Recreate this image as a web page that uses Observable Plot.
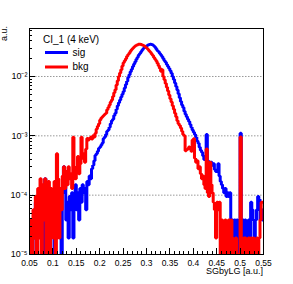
<!DOCTYPE html>
<html><head><meta charset="utf-8">
<script src="https://cdn.jsdelivr.net/npm/d3@7"></script>
<script src="https://cdn.jsdelivr.net/npm/@observablehq/plot@0.6"></script>
<style>html,body{margin:0;padding:0;background:#fff;overflow:hidden}</style>
</head><body><div id="chart"></div>
<script>
// ---- data ----
const binStart = 0.05;
const binWidth = 0.0025;
const sig = [
  1.9e-5, 1.9e-5, 0, 3.8e-5, 1.9e-5, 7.6e-5, 5.7e-5, 3.8e-5, 7.6e-5, 3.8e-5,
  5.7e-5, 1.1e-4, 0, 1.9e-4, 1.3e-4, 3.8e-5, 7.6e-5, 0, 5.7e-5, 9.5e-5,
  3.8e-5, 0, 7.6e-5, 1.9e-5, 5.7e-5, 1.3e-4, 3.8e-5, 0, 1.1e-4, 3.0e-4,
  1.7e-4, 3.8e-5, 7.6e-5, 1.9e-5, 9.5e-5, 5.7e-5, 1.1e-4, 1.9e-5, 5.7e-5, 1.5e-4,
  5.7e-5, 1.1e-4, 3.8e-5, 1.3e-4, 7.6e-5, 1.5e-4, 1.1e-4, 1.3e-4, 5.7e-5, 1.7e-4,
  1.5e-4, 2.1e-4, 1.9e-4, 2.8e-4, 3.2e-4, 3.8e-4, 4.7e-4, 5.0e-4, 5.5e-4, 6.2e-4,
  6.5e-4, 7.0e-4, 7.6e-4, 9.0e-4, 9.6e-4, 1.05e-3, 1.2e-3, 1.25e-3, 1.4e-3, 1.6e-3,
  1.8e-3, 1.9e-3, 2.2e-3, 2.4e-3, 2.8e-3, 3.2e-3, 3.6e-3, 4.0e-3, 4.5e-3, 5.0e-3,
  5.6e-3, 6.4e-3, 7.3e-3, 8.3e-3, 9.6e-3, 1.07e-2, 1.2e-2, 1.33e-2, 1.47e-2, 1.62e-2,
  1.78e-2, 1.95e-2, 2.12e-2, 2.3e-2, 2.45e-2, 2.62e-2, 2.8e-2, 2.95e-2, 3.08e-2, 3.2e-2,
  3.3e-2, 3.38e-2, 3.45e-2, 3.48e-2, 3.45e-2, 3.38e-2, 3.28e-2, 3.1e-2, 2.9e-2, 2.72e-2,
  2.6e-2, 2.45e-2, 2.3e-2, 2.15e-2, 2.0e-2, 1.85e-2, 1.73e-2, 1.6e-2, 1.48e-2, 1.36e-2,
  1.25e-2, 1.13e-2, 1.0e-2, 8.9e-3, 7.8e-3, 6.8e-3, 5.9e-3, 5.1e-3, 4.4e-3, 3.8e-3,
  3.3e-3, 3.0e-3, 2.6e-3, 2.3e-3, 2.1e-3, 1.9e-3, 1.75e-3, 1.55e-3, 1.4e-3, 1.25e-3,
  1.15e-3, 1.05e-3, 9.5e-4, 8.2e-4, 7.5e-4, 6.4e-4, 5.7e-4, 5.3e-4, 4.6e-4, 4.0e-4,
  4.0e-4, 1.05e-3, 3.8e-4, 3.6e-4, 3.0e-4, 3.6e-4, 3.2e-4, 3.4e-4, 2.7e-4, 2.5e-4,
  2.5e-4, 3.4e-4, 2.1e-4, 1.7e-4, 1.5e-4, 1.3e-4, 1.1e-4, 1.3e-4, 9.5e-5, 1.1e-4,
  9.5e-5, 1.1e-4, 3.8e-5, 3.8e-5, 1.9e-5, 3.8e-5, 0, 3.8e-5, 1.9e-5, 0,
  1.1e-3, 1.9e-5, 3.8e-5, 1.9e-5, 3.8e-5, 0, 1.9e-5, 3.8e-5, 1.9e-5, 7.6e-5,
  5.7e-5, 3.8e-5, 1.9e-5, 3.8e-5, 5.7e-5, 9.5e-5, 8.5e-5, 3.8e-5, 5.7e-5, 3.8e-5
];
const bkg = [
  0, 3.8e-5, 0, 5.7e-5, 1.9e-5, 9.5e-5, 0, 1.3e-4, 1.9e-5, 1.9e-4,
  0, 1.5e-4, 3.8e-5, 1.9e-4, 0, 1.1e-4, 1.7e-4, 0, 1.3e-4, 7.6e-5,
  1.9e-5, 1.7e-4, 0, 5.0e-4, 1.9e-4, 1.9e-5, 1.3e-4, 5.7e-5, 2.1e-4, 3.0e-4,
  1.3e-4, 2.5e-4, 1.5e-4, 3.0e-4, 1.9e-4, 2.3e-4, 1.3e-4, 9.5e-4, 2.7e-4, 1.9e-4,
  3.0e-4, 4.5e-4, 2.3e-4, 3.4e-4, 9.5e-4, 4.2e-4, 5.0e-4, 3.6e-4, 6.0e-4, 9.0e-4,
  8.5e-4, 9.0e-4, 9.5e-4, 8.8e-4, 1.0e-3, 9.6e-4, 1.1e-3, 1.3e-3, 1.45e-3, 1.6e-3,
  1.85e-3, 2.0e-3, 2.1e-3, 2.2e-3, 2.3e-3, 2.4e-3, 2.75e-3, 3.0e-3, 3.3e-3, 3.7e-3,
  4.0e-3, 4.6e-3, 5.3e-3, 6.0e-3, 7.2e-3, 8.5e-3, 1.0e-2, 1.15e-2, 1.3e-2, 1.5e-2,
  1.7e-2, 1.85e-2, 2.0e-2, 2.2e-2, 2.35e-2, 2.5e-2, 2.7e-2, 2.85e-2, 3.0e-2, 3.15e-2,
  3.25e-2, 3.35e-2, 3.42e-2, 3.48e-2, 3.5e-2, 3.45e-2, 3.4e-2, 3.32e-2, 3.22e-2, 3.1e-2,
  2.98e-2, 2.85e-2, 2.7e-2, 2.55e-2, 2.4e-2, 2.25e-2, 2.1e-2, 1.95e-2, 1.82e-2, 1.68e-2,
  1.52e-2, 1.38e-2, 1.22e-2, 1.3e-2, 1.0e-2, 8.8e-3, 7.6e-3, 6.6e-3, 5.7e-3, 4.9e-3,
  4.2e-3, 3.7e-3, 3.2e-3, 2.8e-3, 2.4e-3, 2.1e-3, 1.8e-3, 1.6e-3, 1.5e-3, 1.35e-3,
  1.2e-3, 1.05e-3, 1.0e-3, 5.6e-4, 5.8e-4, 6.0e-4, 6.5e-4, 6.0e-4, 5.5e-4, 8.5e-4,
  8.9e-4, 4.2e-4, 3.6e-4, 3.8e-4, 2.8e-4, 3.0e-4, 2.3e-4, 1.9e-4, 2.1e-4, 1.5e-4,
  1.3e-4, 6.0e-4, 1.1e-4, 9.5e-5, 3.6e-4, 1.5e-4, 1.1e-4, 7.6e-5, 5.7e-5, 1.9e-5,
  7.6e-5, 5.7e-5, 7.6e-5, 0, 3.8e-5, 1.9e-5, 0, 3.8e-5, 1.9e-5, 0,
  3.8e-5, 0, 3.8e-5, 1.9e-5, 0, 0, 1.9e-5, 0, 0, 0,
  9.6e-4, 0, 0, 1.9e-5, 1.9e-5, 0, 0, 1.9e-5, 0, 1.9e-5,
  0, 1.9e-5, 0, 0, 1.9e-5, 0, 1.9e-5, 3.8e-5, 7.6e-5, 7.6e-5
];
const xTicks = [0.05, 0.1, 0.15, 0.2, 0.25, 0.3, 0.35, 0.4, 0.45, 0.5, 0.55];
const xTickLabels = ["0.05", "0.1", "0.15", "0.2", "0.25", "0.3", "0.35", "0.4", "0.45", "0.5", "0.55"];
const yTicks = [1e-5, 1e-4, 1e-3, 1e-2];
const yTickLabels = ["10\u207B\u2075", "10\u207B\u2074", "10\u207B\u00B3", "10\u207B\u00B2"];
const gridValues = [1e-4, 1e-3, 1e-2];
const seriesNames = ["sig", "bkg"];
const seriesColors = ["#0000ff", "#ff0000"];
const legendTitle = "CI_1 (4 keV)";
const xTitle = "SGbyLG [a.u.]";
const yTitle = "a.u.";

// ---- layout ----
const W = 293, H = 284;
const M = {top: 28, right: 30, bottom: 30, left: 29};
const xDomain = [0.05, 0.55];
const yDomain = [1e-5, 0.0644];
const font = "'Liberation Sans', Arial, Helvetica, sans-serif";

function histSteps(values, series) {
  const pts = [];
  values.forEach((v, i) => {
    const lo = binStart + i * binWidth, hi = lo + binWidth;
    const y = Math.max(v, yDomain[0]);
    pts.push({x: lo, y, series}, {x: hi, y, series});
  });
  return pts;
}
const sigSteps = histSteps(sig, seriesNames[0]);
const bkgSteps = histSteps(bkg, seriesNames[1]);

// minor tick positions
const yMinor = [];
for (let e = -5; e <= -2; e++) for (let k = 2; k <= 9; k++) {
  const v = k * Math.pow(10, e);
  if (v <= yDomain[1]) yMinor.push(v);
}
const xMinor = d3.range(5, 56).map(i => i / 100).filter(v => Math.round(v * 100) % 5 !== 0);

function decor(index, scales, values, dims) {
  const {x, y} = scales;
  const g = d3.create("svg:g");
  const L = dims.marginLeft, B = dims.height - dims.marginBottom, R = dims.width - dims.marginRight;
  const ticks = g.append("g").attr("stroke", "#000").attr("stroke-width", 1).attr("fill", "none");
  for (const t of yTicks) { const p = Math.round(y(t)) + 0.5; ticks.append("line").attr("x1", L).attr("x2", L + 6).attr("y1", p).attr("y2", p); }
  for (const t of yMinor) { const p = Math.round(y(t)) + 0.5; ticks.append("line").attr("x1", L).attr("x2", L + 3).attr("y1", p).attr("y2", p); }
  for (const t of xTicks) { const p = Math.round(x(t)) + 0.5; ticks.append("line").attr("x1", p).attr("x2", p).attr("y1", B).attr("y2", B - 6); }
  for (const t of xMinor) { const p = Math.round(x(t)) + 0.5; ticks.append("line").attr("x1", p).attr("x2", p).attr("y1", B).attr("y2", B - 3); }
  const txt = g.append("g").attr("font-family", font).attr("fill", "#000").attr("stroke", "none");
  txt.append("g").attr("transform", `translate(7,${M.top - 2})`)
    .append("text").attr("transform", "rotate(-90)").attr("x", 0).attr("y", 0)
    .attr("text-anchor", "end").attr("font-size", 9).text(yTitle);
  txt.append("text").attr("x", R).attr("y", B + 20).attr("text-anchor", "end").attr("font-size", 9).text(xTitle);
  // legend
  txt.append("text").attr("x", 43).attr("y", 42.5).attr("text-anchor", "start").attr("font-size", 10).text(legendTitle);
  const rows = [52.5, 67];
  seriesNames.forEach((name, i) => {
    g.append("line").attr("x1", 45).attr("x2", 68).attr("y1", rows[i]).attr("y2", rows[i])
      .attr("stroke", seriesColors[i]).attr("stroke-width", 3);
    txt.append("text").attr("x", 72.5).attr("y", rows[i] + 3.3).attr("text-anchor", "start").attr("font-size", 10).text(name);
  });
  return g.node();
}

const chart = Plot.plot({
  width: W, height: H,
  marginTop: M.top, marginRight: M.right, marginBottom: M.bottom, marginLeft: M.left,
  style: {fontFamily: font, background: "#fff", color: "#000"},
  x: {domain: xDomain},
  y: {type: "log", domain: yDomain},
  marks: [
    Plot.ruleY(gridValues, {stroke: "#999", strokeDasharray: "1.5,1.5", strokeWidth: 1}),
    Plot.line(sigSteps, {x: "x", y: "y", stroke: seriesColors[0], strokeWidth: 3, strokeLinejoin: "miter", clip: true}),
    Plot.line(bkgSteps, {x: "x", y: "y", stroke: seriesColors[1], strokeWidth: 3, strokeLinejoin: "miter", clip: true}),
    Plot.frame({stroke: "#000"}),
    Plot.axisX({ticks: xTicks, tickSize: 0, tickPadding: 5, fontSize: 8.5, label: null,
      tickFormat: d => xTickLabels[xTicks.indexOf(d)]}),
    Plot.axisY({ticks: yTicks, tickSize: 0, tickPadding: 2, fontSize: 9, label: null,
      tickFormat: d => yTickLabels[yTicks.indexOf(d)]}),
    decor
  ]
});
document.getElementById("chart").appendChild(chart);
</script>
</body></html>
